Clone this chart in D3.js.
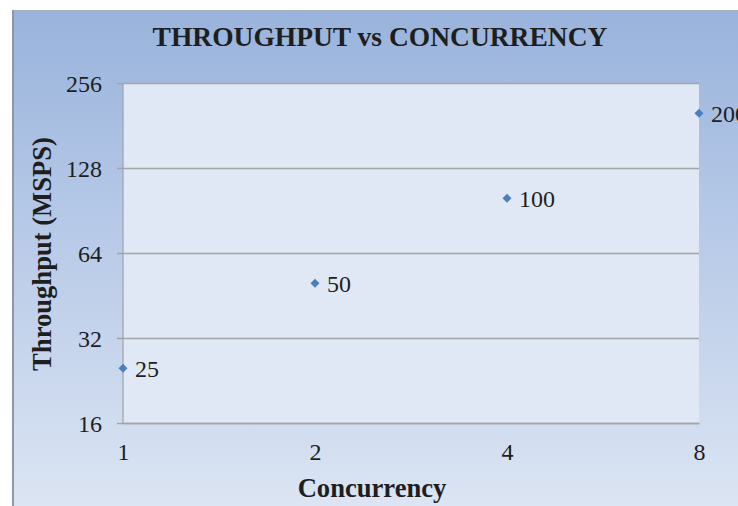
<!DOCTYPE html>
<html>
<head>
<meta charset="utf-8">
<script src="https://cdn.jsdelivr.net/npm/d3@7"></script>
<style>
html,body{margin:0;padding:0;background:#fff;}
svg{display:block;}
text{font-family:"Liberation Serif","Times New Roman",serif;fill:#1e1e1e;}
</style>
</head>
<body>
<svg id="chart" width="738" height="506"></svg>
<script>
const concurrency = [1, 2, 4, 8];
const throughput = [25, 50, 100, 200];
const pointLabels = ["25", "50", "100", "200"];
const xTicks = [1, 2, 4, 8];
const yTicks = [16, 32, 64, 128, 256];
const chartTitle = "THROUGHPUT vs CONCURRENCY";
const xTitle = "Concurrency";
const yTitle = "Throughput (MSPS)";

const svg = d3.select("#chart");
const defs = svg.append("defs");
const grad = defs.append("linearGradient").attr("id","bg").attr("x1",0).attr("y1",0).attr("x2",0).attr("y2",1);
grad.append("stop").attr("offset","0%").attr("stop-color","#99b3dc");
grad.append("stop").attr("offset","45%").attr("stop-color","#b9cbe8");
grad.append("stop").attr("offset","100%").attr("stop-color","#dee7f4");

// outer chart area
svg.append("rect").attr("x",12).attr("y",10).attr("width",760).attr("height",520).attr("fill","url(#bg)");
svg.append("line").attr("x1",12).attr("x2",760).attr("y1",10.5).attr("y2",10.5).attr("stroke","#a9b0bb").attr("stroke-width",1);
svg.append("line").attr("x1",13).attr("x2",13).attr("y1",10).attr("y2",506).attr("stroke","#8e97a6").attr("stroke-width",2);

const L = 123, R = 699, T = 83, B = 423;
const x = d3.scaleLog().base(2).domain([1, 8]).range([L, R]);
const y = d3.scaleLog().base(2).domain([16, 256]).range([B, T]);

// plot area
svg.append("rect").attr("x",L).attr("y",T).attr("width",R-L).attr("height",B-T).attr("fill","#e1e8f5");

// gridlines + y axis
const yAxis = d3.axisLeft(y).tickValues(yTicks).tickSize(-(R-L)).tickPadding(0).tickFormat(d3.format("d"));
const gy = svg.append("g").attr("transform",`translate(${L},0)`).call(yAxis);
gy.select(".domain").remove();
gy.selectAll(".tick line").attr("stroke","#a3a5a9").attr("stroke-width",1.3).attr("x1",-6);
gy.selectAll(".tick text").attr("x",-21).attr("dy","0.34em").style("font-size","24px").attr("fill","#1e1e1e")
  .style("font-family",'"Liberation Serif","Times New Roman",serif');

// left axis line
svg.append("line").attr("x1",L).attr("x2",L).attr("y1",T).attr("y2",B).attr("stroke","#a3a5a9").attr("stroke-width",1.3);

// x axis
const xAxis = d3.axisBottom(x).tickValues(xTicks).tickSize(0).tickPadding(0).tickFormat(d3.format("d"));
const gx = svg.append("g").attr("transform",`translate(0,${B})`).call(xAxis);
gx.select(".domain").attr("stroke","#a3a5a9").attr("stroke-width",1.3);
gx.selectAll(".tick text").attr("y",37).attr("dy",0).style("font-size","24px").attr("fill","#1e1e1e")
  .style("font-family",'"Liberation Serif","Times New Roman",serif');

// points
const data = concurrency.map((c,i)=>({c, v: throughput[i], label: pointLabels[i]}));
const sym = d3.symbol().type(d3.symbolSquare).size(40);
svg.append("g").selectAll("path").data(data).join("path")
  .attr("d", sym)
  .attr("transform", d=>`translate(${x(d.c)},${y(d.v)}) rotate(45)`)
  .attr("fill","#4a7ebf");

svg.append("g").selectAll("text").data(data).join("text")
  .attr("x", d=>x(d.c)+12)
  .attr("y", d=>y(d.v))
  .attr("dy","0.35em")
  .style("font-size","24px")
  .text(d=>d.label);

// titles
svg.append("text").attr("x",380).attr("y",46).attr("text-anchor","middle")
  .style("font-size","27.5px").style("font-weight","bold").text(chartTitle);
svg.append("text").attr("x",372).attr("y",497).attr("text-anchor","middle")
  .style("font-size","26.6px").style("font-weight","bold").text(xTitle);
svg.append("text").attr("transform","translate(51,254) rotate(-90)").attr("text-anchor","middle")
  .style("font-size","26.6px").style("font-weight","bold").text(yTitle);
</script>
</body>
</html>
